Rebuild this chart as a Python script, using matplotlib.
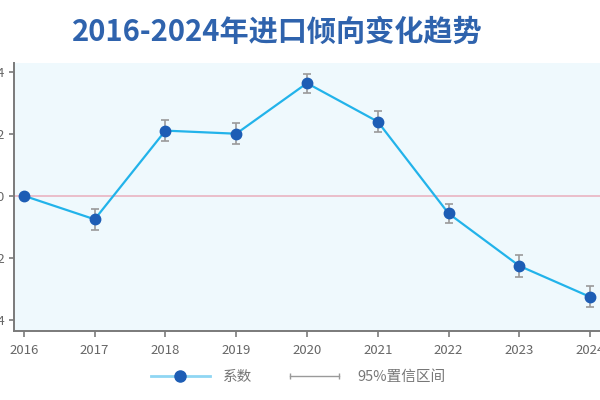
"""Import propensity trend chart, 2016-2024."""

import matplotlib.pyplot as plt
from matplotlib.legend_handler import HandlerLine2D

plt.rcParams['font.family'] = ['Noto Sans CJK SC', 'DejaVu Sans']

years = [2016, 2017, 2018, 2019, 2020, 2021, 2022, 2023, 2024]
coef = [0.0, -0.076, 0.210, 0.200, 0.363, 0.239, -0.057, -0.226, -0.326]
err = [0.0, 0.033, 0.035, 0.034, 0.031, 0.034, 0.032, 0.036, 0.034]
yticks = [-0.4, -0.2, 0.0, 0.2, 0.4]

title = '2016-2024年进口倾向变化趋势'
line_label = '系数'
ci_label = '95%置信区间'

fig = plt.figure(figsize=(6, 4), dpi=100)
# axes deliberately runs past the left/right edge like the source crop
ax = fig.add_axes([0.0233, 0.1725, 0.9967, 0.67])
ax.set_facecolor('#eff9fd')

ax.axhline(0, color='#eab4c2', lw=1.2, zorder=1)
ax.errorbar(years, coef, yerr=err, fmt='none', ecolor='#9a9a9a',
            elinewidth=1.2, capsize=3, capthick=1.2, zorder=2)
ax.plot(years, coef, color='#22b3ea', lw=1.6, zorder=3)
ax.plot(years, coef, 'o', color='#1d5db5', ms=7.5, zorder=4)

ax.set_xlim(2015.86, 2024.31)
ax.set_ylim(-0.436, 0.428)
ax.set_xticks(years)
ax.set_yticks(yticks)

for side in ['top', 'right']:
    ax.spines[side].set_visible(False)
for side in ['left', 'bottom']:
    ax.spines[side].set_color('#7a7a7a')
    ax.spines[side].set_linewidth(1.4)
ax.tick_params(axis='both', colors='#7a7a7a', labelcolor='#666666',
               labelsize=9.5, width=1.2)
ax.tick_params(axis='x', length=4.5, pad=5)
ax.tick_params(axis='y', length=3.5, pad=3)

fig.text(0.462, 0.92, title, ha='center', va='center', fontsize=21,
         fontweight='bold', color='#2f63ad')

h1 = plt.Line2D([], [], color='#8fd6f3', lw=2, marker='o', ms=8,
                markerfacecolor='#1d5db5', markeredgecolor='#1d5db5')
h2 = plt.Line2D([], [], color='#9a9a9a', lw=1, marker='|', ms=5)
leg = fig.legend([h1, h2], [line_label, ci_label], loc='center',
                 bbox_to_anchor=(0.497, 0.058), ncol=2, frameon=False,
                 fontsize=10.5, handlelength=4.0, columnspacing=2.3,
                 handletextpad=0.9,
                 handler_map={h2: HandlerLine2D(numpoints=2)})
for text in leg.get_texts():
    text.set_color('#777777')

fig.savefig('out.png')
